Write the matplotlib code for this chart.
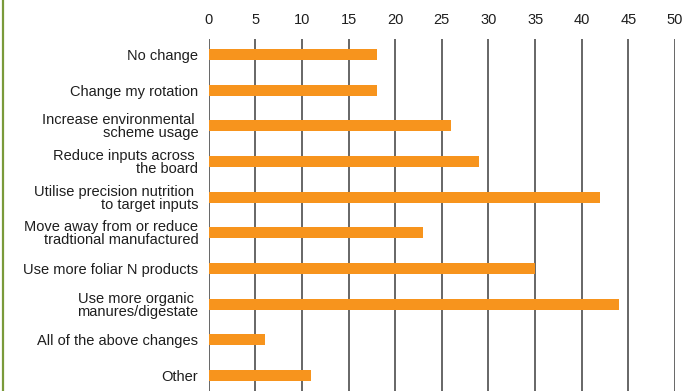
import matplotlib.pyplot as plt
from matplotlib.lines import Line2D

plt.rcParams['font.family'] = ['Liberation Sans', 'DejaVu Sans']

# Survey answers (% of respondents)
categories = [
    'No change',
    'Change my rotation',
    'Increase environmental \nscheme usage',
    'Reduce inputs across \nthe board',
    'Utilise precision nutrition \nto target inputs',
    'Move away from or reduce\ntradtional manufactured',
    'Use more foliar N products',
    'Use more organic \nmanures/digestate',
    'All of the above changes',
    'Other',
]
values = [18, 18, 26, 29, 42, 23, 35, 44, 6, 11]
xticks = [0, 5, 10, 15, 20, 25, 30, 35, 40, 45, 50]

bar_color = '#f7941d'
grid_color = '#666666'
text_color = '#1e1e1e'

fig = plt.figure(figsize=(6.85, 3.91), dpi=100)
ax = fig.add_axes([208.7 / 685, 0, (675 - 208.7) / 685, 352 / 391])

ypos = list(range(len(categories)))
ax.barh(ypos, values, height=0.31, color=bar_color, zorder=3)

ax.set_xlim(0, 50)
ax.set_ylim(len(categories) - 1 + 0.435, -0.435)

ax.set_xticks(xticks)
ax.xaxis.tick_top()
ax.tick_params(axis='x', length=0, pad=9, labelsize=10.5, labelcolor=text_color)
ax.set_yticks(ypos)
ax.set_yticklabels(categories, fontsize=10.5, color=text_color, linespacing=0.9)
ax.tick_params(axis='y', length=0, pad=7.5)

for x in xticks:
    ax.axvline(x, color=grid_color, linewidth=1.4, zorder=2)

for s in ax.spines.values():
    s.set_visible(False)

# green rule down the left edge of the panel
fig.add_artist(Line2D([2.5 / 685, 2.5 / 685], [0, 1], color='#7a9a3a',
                      linewidth=1.6, transform=fig.transFigure))

fig.savefig('out.png', dpi=100, facecolor='white')
